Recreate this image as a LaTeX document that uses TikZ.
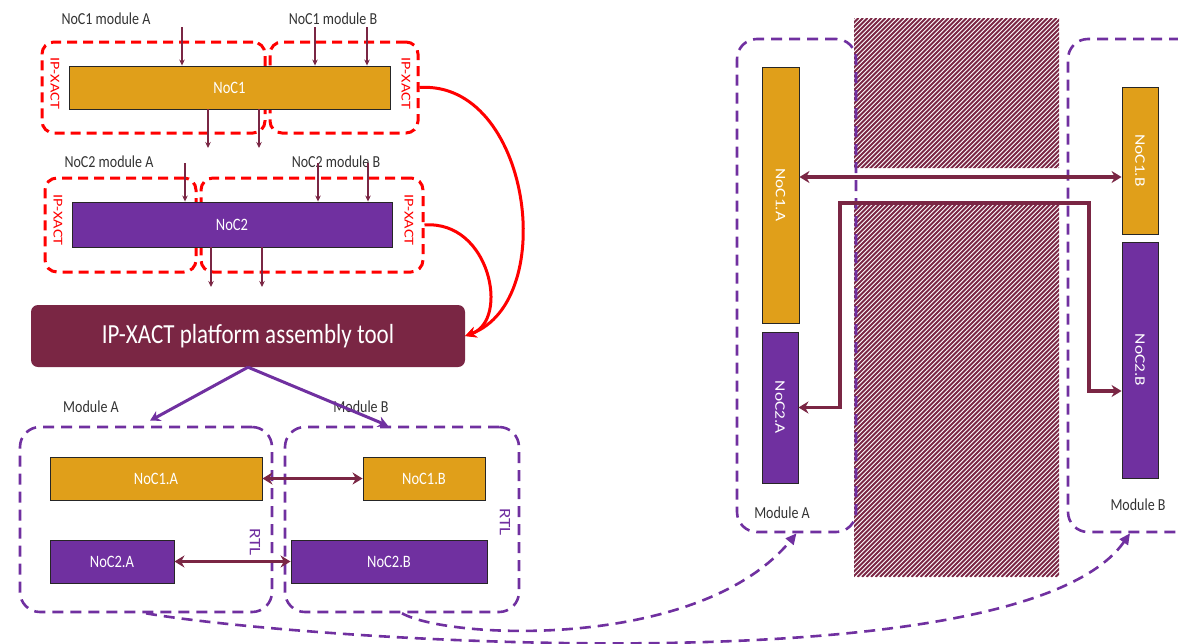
\documentclass[tikz,border=0pt]{standalone}
\usepackage{fontspec}
\setmainfont{Carlito}
\usetikzlibrary{arrows.meta}
\definecolor{noco}{HTML}{E09F1A}
\definecolor{nocp}{HTML}{7030A0}
\definecolor{maro}{HTML}{7A2644}
\definecolor{lbl}{HTML}{333333}
\newcommand{\myvt}[1]{\scalebox{1}[1.2]{#1}}
\newcommand{\myrt}[1]{\scalebox{1.2}[1]{#1}}
\newcommand{\myvrt}[1]{\rotatebox{-90}{\scalebox{1.2}[1]{#1}}}
\begin{document}
\begin{tikzpicture}[x=1pt,y=-1pt,
  blk/.style={draw=black!85, line width=0.9pt, inner sep=0pt, text=white, font=\fontsize{14.5}{16}\selectfont},
  orb/.style={blk, fill=noco},
  pub/.style={blk, fill=nocp},
  lab/.style={text=lbl, font=\fontsize{14}{16}\selectfont, inner sep=0pt},
  ipx/.style={text=red, font=\fontsize{13.5}{15}\selectfont, rotate=-90, inner sep=0pt},
  rtl/.style={text=nocp, font=\fontsize{16}{18}\selectfont, rotate=-90, inner sep=0pt},
  redbox/.style={draw=red, line width=3pt, dash pattern=on 10pt off 6pt, rounded corners=12pt, inner sep=0pt},
  modbox/.style={draw=nocp, line width=2.6pt, dash pattern=on 11pt off 7pt, rounded corners=20pt, inner sep=0pt},
  thinarr/.style={draw=maro, line width=1.2pt, -{Stealth[length=6pt,width=5.5pt]}},
  thickarr/.style={draw=maro, line width=3.5pt, {Stealth[length=10pt,width=12pt]}-{Stealth[length=10pt,width=12pt]}},
  redarr/.style={draw=red, line width=3pt, -{Stealth[length=11pt,width=11pt]}},
  parr/.style={draw=nocp, line width=3pt, -{Stealth[length=10pt,width=11pt]}},
  dcurve/.style={draw=nocp, line width=2.6pt, dash pattern=on 11pt off 7pt, -{Triangle[length=11pt,width=10pt]}},
  toolbox/.style={fill=maro, rounded corners=7pt, inner sep=0pt, text=white, font=\fontsize{23}{26}\selectfont}
]
\useasboundingbox (0,0) rectangle (1178,643);

% ---------- hatched barrier ----------
\begin{scope}
  \clip (854,18) rectangle (1059,168) (854,205) rectangle (1059,577);
  \foreach \i in {0,...,172} {
    \draw[maro, line width=1.9pt] ({295+\i*4.5},577) -- ++(559,-559);
  }
\end{scope}

% ---------- top: NoC1 ----------
\node[redbox, minimum width=223pt, minimum height=91pt] (L1) at (153.5,87.5) {};
\node[redbox, minimum width=148pt, minimum height=91pt] (R1) at (344,87.5) {};
\node[orb, minimum width=321pt, minimum height=43pt] (noc1) at (229.5,87.5) {\myvt{NoC1}};
\node[ipx] (ipx1) at (55,83.5) {\myrt{IP-XACT}};
\node[ipx] (ipx2) at (406,83.5) {\myrt{IP-XACT}};
\node[lab] (m1a) at (106,19) {\myvt{NoC1 module A}};
\node[lab] (m1b) at (333,19) {\myvt{NoC1 module B}};
\coordinate (i11) at (182,27);
\coordinate (i12) at (315,27);
\coordinate (i13) at (367,27);
\coordinate (o11) at (208,148);
\coordinate (o12) at (259,148);
\draw[thinarr] (i11) -- (i11 |- noc1.north);
\draw[thinarr] (i12) -- (i12 |- noc1.north);
\draw[thinarr] (i13) -- (i13 |- noc1.north);
\draw[thinarr] (o11 |- noc1.south) -- (o11);
\draw[thinarr] (o12 |- noc1.south) -- (o12);

% ---------- NoC2 ----------
\node[redbox, minimum width=151pt, minimum height=94pt] (L2) at (120.5,225) {};
\node[redbox, minimum width=222pt, minimum height=94pt] (R2) at (312,225) {};
\node[pub, minimum width=320pt, minimum height=45pt] (noc2) at (232,224.5) {\myvt{NoC2}};
\node[ipx] (ipx3) at (58,220) {\myrt{IP-XACT}};
\node[ipx] (ipx4) at (409,220) {\myrt{IP-XACT}};
\node[lab] (m2a) at (109,162) {\myvt{NoC2 module A}};
\node[lab] (m2b) at (336,162) {\myvt{NoC2 module B}};
\coordinate (i21) at (185,163);
\coordinate (i22) at (318,163);
\coordinate (i23) at (368,163);
\coordinate (o21) at (211,287);
\coordinate (o22) at (262,287);
\draw[thinarr] (i21) -- (i21 |- noc2.north);
\draw[thinarr] (i22) -- (i22 |- noc2.north);
\draw[thinarr] (i23) -- (i23 |- noc2.north);
\draw[thinarr] (o21 |- noc2.south) -- (o21);
\draw[thinarr] (o22 |- noc2.south) -- (o22);

% ---------- tool ----------
\node[toolbox, minimum width=434pt, minimum height=62pt] (tool) at (248,336) {\myvt{IP-XACT platform assembly tool}};
\draw[redarr] (R1.east) .. controls (530,80) and (560,300) .. (tool.east);
\draw[redarr] (R2.east) .. controls (490,220) and (510,320) .. (tool.east);

% ---------- bottom-left RTL ----------
\node[modbox, minimum width=252pt, minimum height=185pt] (mA) at (146,519.5) {};
\node[modbox, minimum width=234pt, minimum height=185pt] (mB) at (402,519.5) {};
\node[lab] (lma) at (91,407) {\myvt{Module A}};
\node[lab] (lmb) at (361,407) {\myvt{Module B}};
\draw[parr] (tool.south) -- ([xshift=4pt,yshift=5pt]mA.north);
\draw[parr] (tool.south) -- ([xshift=-14pt]mB.north);
\node[orb, minimum width=212pt, minimum height=43pt] (n1a) at (156,478.5) {\myvt{NoC1.A}};
\node[orb, minimum width=122pt, minimum height=43pt] (n1b) at (424,478.5) {\myvt{NoC1.B}};
\node[pub, minimum width=124pt, minimum height=43pt] (n2a) at (112,561.5) {\myvt{NoC2.A}};
\node[pub, minimum width=196pt, minimum height=43pt] (n2b) at (389,561.5) {\myvt{NoC2.B}};
\node[rtl] (rtl1) at (255,542) {\myrt{RTL}};
\node[rtl] (rtl2) at (505,522) {\myrt{RTL}};
\draw[thickarr] (n1a.east) -- (n1b.west);
\draw[thickarr] (n2a.east) -- (n2b.west);

% ---------- right: floorplan ----------
\node[modbox, minimum width=119pt, minimum height=493pt] (RA) at (796.5,285.5) {};
\node[modbox, minimum width=132pt, minimum height=493pt] (RB) at (1134,285.5) {};
\node[orb, minimum width=37pt, minimum height=256pt] (r1a) at (780.5,195) {\myvrt{NoC1.A}};
\node[pub, minimum width=36pt, minimum height=151pt] (r2a) at (780,407.5) {\myvrt{NoC2.A}};
\node[orb, minimum width=36pt, minimum height=147pt] (r1b) at (1140,160.5) {\myvrt{NoC1.B}};
\node[pub, minimum width=36pt, minimum height=236pt] (r2b) at (1140,360) {\myvrt{NoC2.B}};
\node[lab] (lra) at (782,513) {\myvt{Module A}};
\node[lab] (lrb) at (1138,505) {\myvt{Module B}};
\draw[thickarr] ([yshift=18pt]r1a.east) -- ([yshift=18pt]r1a.east -| r1b.west);
\coordinate (p1) at (840,203);
\coordinate (p2) at (1089,203);
\draw[thickarr] (r2a.east) -| (p1) -- (p2) |- ([yshift=-31pt]r2b.west);

% ---------- dashed mapping curves ----------
\draw[dcurve] (mA.south) .. controls (300,640) and (1020,690) .. ([xshift=-4pt]RB.south);
\draw[dcurve] (mB.south) .. controls (450,640) and (700,650) .. (RA.south);
\end{tikzpicture}
\end{document}
